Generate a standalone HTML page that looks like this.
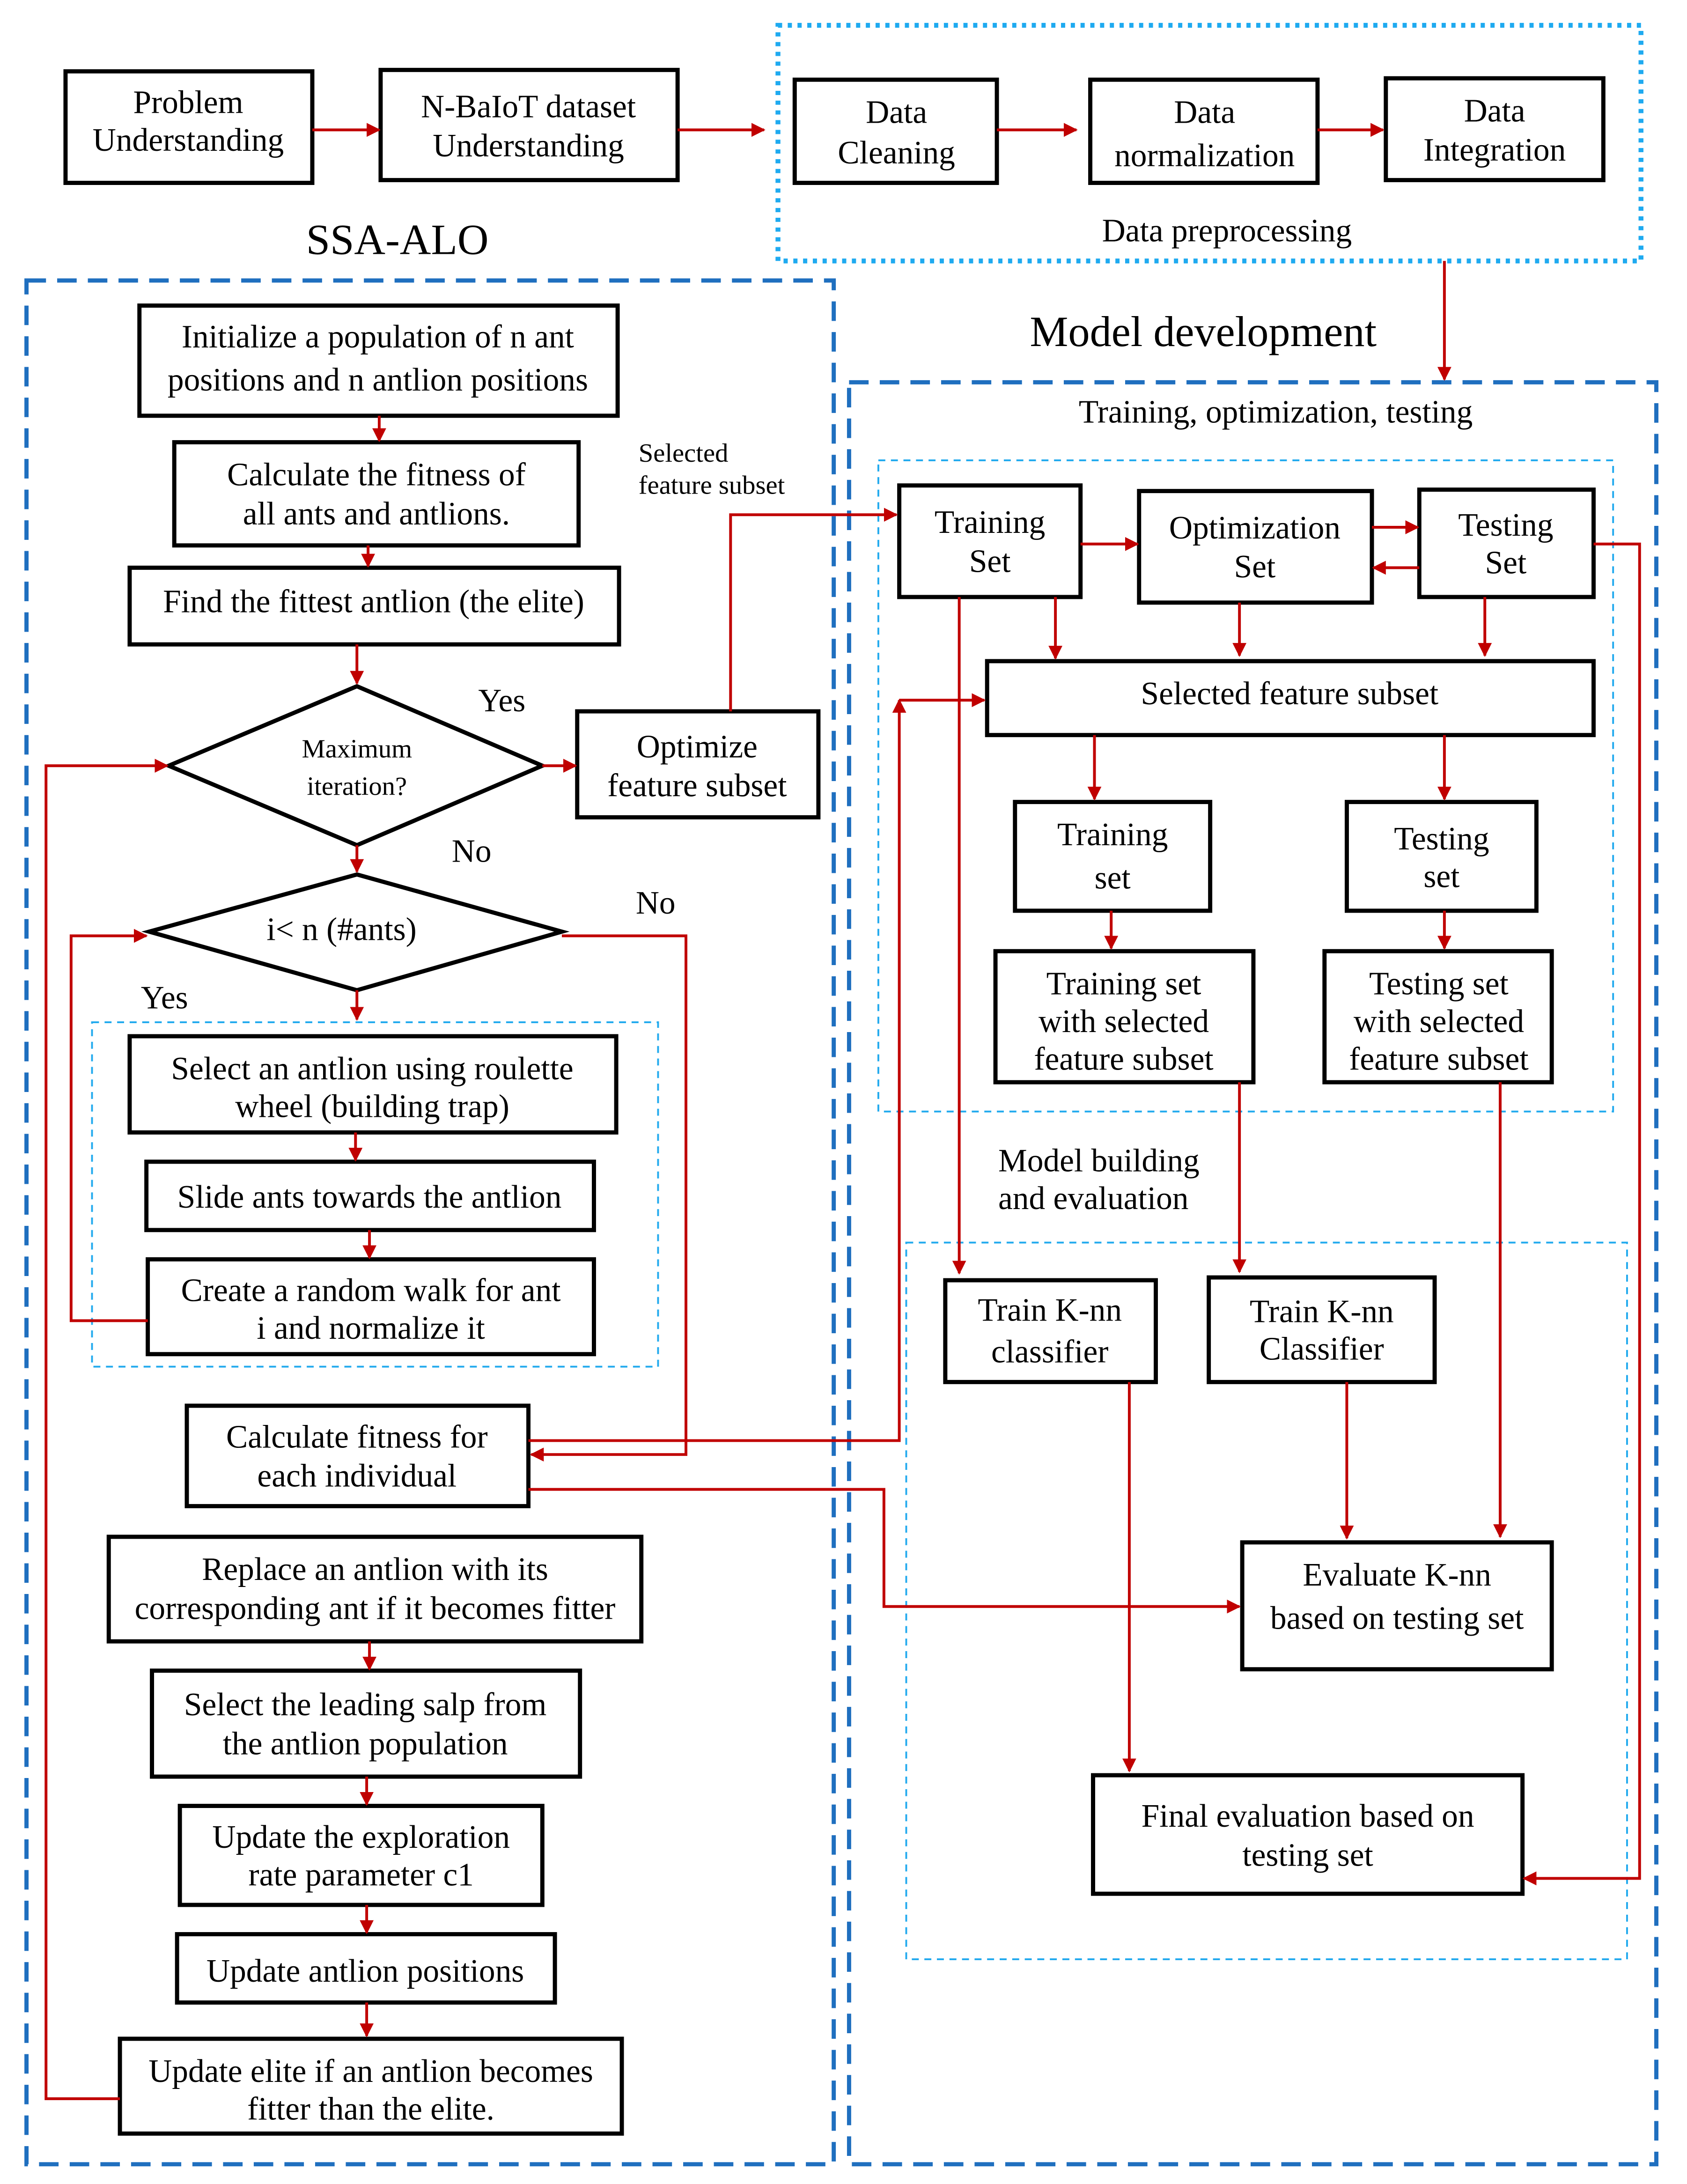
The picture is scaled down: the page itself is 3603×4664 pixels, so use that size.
<!DOCTYPE html>
<html><head><meta charset="utf-8"><style>
html,body{margin:0;padding:0;background:#fff}
svg{display:block}
text{font-family:"Liberation Serif",serif;fill:#000}
</style></head><body>
<svg width="3603" height="4664" viewBox="0 0 1210 1566" xmlns="http://www.w3.org/2000/svg">
<defs>
<marker id="a" viewBox="0 0 10 10" refX="9" refY="5" markerWidth="5" markerHeight="5" orient="auto"><path d="M0,0L10,5L0,10z" fill="#c00000"/></marker>
</defs>
<g fill="none" stroke="#000" stroke-width="3">
<rect x="47" y="51" width="177" height="80"/>
<rect x="273" y="50" width="213" height="79"/>
<rect x="570" y="57" width="145" height="74"/>
<rect x="782" y="57" width="163" height="74"/>
<rect x="994" y="56" width="156" height="73"/>
<rect x="645" y="348" width="130" height="80"/>
<rect x="817" y="352" width="167" height="80"/>
<rect x="1018" y="351" width="125" height="77"/>
<rect x="708" y="474" width="435" height="53"/>
<rect x="728" y="575" width="140" height="78"/>
<rect x="966" y="575" width="136" height="78"/>
<rect x="714" y="682" width="185" height="94"/>
<rect x="950" y="682" width="163" height="94"/>
<rect x="678" y="918" width="151" height="73"/>
<rect x="867" y="916" width="162" height="75"/>
<rect x="891" y="1106" width="222" height="91"/>
<rect x="784" y="1273" width="308" height="85"/>
<rect x="100" y="219" width="343" height="79"/>
<rect x="125" y="317" width="290" height="74"/>
<rect x="93" y="407" width="351" height="55"/>
<polygon points="256,492 389,549 256,606 121,549"/>
<rect x="414" y="510" width="173" height="76"/>
<polygon points="256,627 403,668 256,710 107,668"/>
<rect x="93" y="743" width="349" height="69"/>
<rect x="105" y="833" width="321" height="49"/>
<rect x="106" y="903" width="320" height="68"/>
<rect x="134" y="1008" width="245" height="72"/>
<rect x="78" y="1102" width="382" height="75"/>
<rect x="109" y="1198" width="307" height="76"/>
<rect x="129" y="1295" width="260" height="71"/>
<rect x="127" y="1387" width="271" height="49"/>
<rect x="86" y="1462" width="360" height="68"/>
</g>
<g fill="none" stroke="#1f6fbf" stroke-width="3" stroke-dasharray="14,8">
<rect x="19" y="201" width="579" height="1351"/>
<rect x="609" y="274" width="579" height="1278"/>
</g>
<rect x="558" y="18" width="619" height="169" fill="none" stroke="#1eaaf0" stroke-width="3.5" stroke-dasharray="3,4"/>
<g fill="none" stroke="#22aaee" stroke-width="1.3" stroke-dasharray="5,4">
<rect x="630" y="330" width="527" height="467"/>
<rect x="650" y="891" width="517" height="514"/>
<rect x="66" y="733" width="406" height="247"/>
</g>
<g fill="none" stroke="#c00000" stroke-width="2" marker-end="url(#a)">
<path d="M224,93H272"/><path d="M486,93H548"/><path d="M715,93H772"/><path d="M945,93H992"/>
<path d="M1036,187V272"/>
<path d="M775,390H816"/><path d="M984,378H1017"/><path d="M1018,407H985"/>
<path d="M757,428V472"/><path d="M889,432V470"/><path d="M1065,428V470"/>
<path d="M688,428V913"/>
<path d="M1143,390H1176V1347H1093"/>
<path d="M785,527V573"/><path d="M1036,527V573"/>
<path d="M797,653V680"/><path d="M1036,653V680"/>
<path d="M889,776V912"/><path d="M1076,776V1102"/>
<path d="M810,991V1270"/><path d="M966,991V1103"/>
<path d="M272,298V316"/><path d="M264,391V406"/><path d="M256,462V490"/>
<path d="M389,549H413"/><path d="M256,606V625"/><path d="M256,710V731"/>
<path d="M255,812V832"/><path d="M265,882V902"/>
<path d="M265,1177V1197"/><path d="M263,1274V1294"/><path d="M263,1366V1386"/><path d="M263,1436V1460"/>
<path d="M86,1505H33V549H120"/>
<path d="M106,947H51V671H105"/>
<path d="M403,671H492V1043H381"/>
<path d="M379,1033H645V502"/>
<path d="M645,502H706"/>
<path d="M379,1068H634V1152H889"/>
<path d="M524,510V369H643"/>
</g>
<g font-size="23.3" text-anchor="middle">
<text x="135" y="81">Problem</text><text x="135" y="108">Understanding</text>
<text x="379" y="84">N-BaIoT dataset</text><text x="379" y="112">Understanding</text>
<text x="643" y="88">Data</text><text x="643" y="117">Cleaning</text>
<text x="864" y="88">Data</text><text x="864" y="119">normalization</text>
<text x="1072" y="87">Data</text><text x="1072" y="115">Integration</text>
<text x="880" y="173">Data preprocessing</text>
<text x="285" y="182" font-size="31">SSA-ALO</text>
<text x="863" y="248" font-size="31">Model development</text>
<text x="915" y="303">Training, optimization, testing</text>
<text x="710" y="382">Training</text><text x="710" y="410">Set</text>
<text x="900" y="386">Optimization</text><text x="900" y="414">Set</text>
<text x="1080" y="384">Testing</text><text x="1080" y="411">Set</text>
<text x="925" y="505">Selected feature subset</text>
<text x="798" y="606">Training</text><text x="798" y="637">set</text>
<text x="1034" y="609">Testing</text><text x="1034" y="636">set</text>
<text x="806" y="713">Training set</text><text x="806" y="740">with selected</text><text x="806" y="767">feature subset</text>
<text x="1032" y="713">Testing set</text><text x="1032" y="740">with selected</text><text x="1032" y="767">feature subset</text>
<text x="753" y="947">Train K-nn</text><text x="753" y="977">classifier</text>
<text x="948" y="948">Train K-nn</text><text x="948" y="975">Classifier</text>
<text x="1002" y="1137">Evaluate K-nn</text><text x="1002" y="1168">based on testing set</text>
<text x="938" y="1310">Final evaluation based on</text><text x="938" y="1338">testing set</text>
<text x="271" y="249">Initialize a population of n ant</text><text x="271" y="280">positions and n antlion positions</text>
<text x="270" y="348">Calculate the fitness of</text><text x="270" y="376">all ants and antlions.</text>
<text x="268" y="439">Find the fittest antlion (the elite)</text>
<text x="256" y="543" font-size="19">Maximum</text><text x="256" y="570" font-size="19">iteration?</text>
<text x="500" y="543">Optimize</text><text x="500" y="571">feature subset</text>
<text x="245" y="674">i&lt; n (#ants)</text>
<text x="267" y="774">Select an antlion using roulette</text><text x="267" y="801">wheel (building trap)</text>
<text x="265" y="866">Slide ants towards the antlion</text>
<text x="266" y="933">Create a random walk for ant</text><text x="266" y="960">i and normalize it</text>
<text x="256" y="1038">Calculate fitness for</text><text x="256" y="1066">each individual</text>
<text x="269" y="1133">Replace an antlion with its</text><text x="269" y="1161">corresponding ant if it becomes fitter</text>
<text x="262" y="1230">Select the leading salp from</text><text x="262" y="1258">the antlion population</text>
<text x="259" y="1325">Update the exploration</text><text x="259" y="1352">rate parameter c1</text>
<text x="262" y="1421">Update antlion positions</text>
<text x="266" y="1493">Update elite if an antlion becomes</text><text x="266" y="1520">fitter than the elite.</text>
</g>
<g font-size="23.3">
<text x="343" y="510">Yes</text><text x="324" y="618">No</text>
<text x="101" y="723">Yes</text><text x="456" y="655">No</text>
<text x="716" y="840">Model building</text><text x="716" y="867">and evaluation</text>
<text x="458" y="331" font-size="19">Selected</text><text x="458" y="354" font-size="19">feature subset</text>
</g>
</svg>
</body></html>
